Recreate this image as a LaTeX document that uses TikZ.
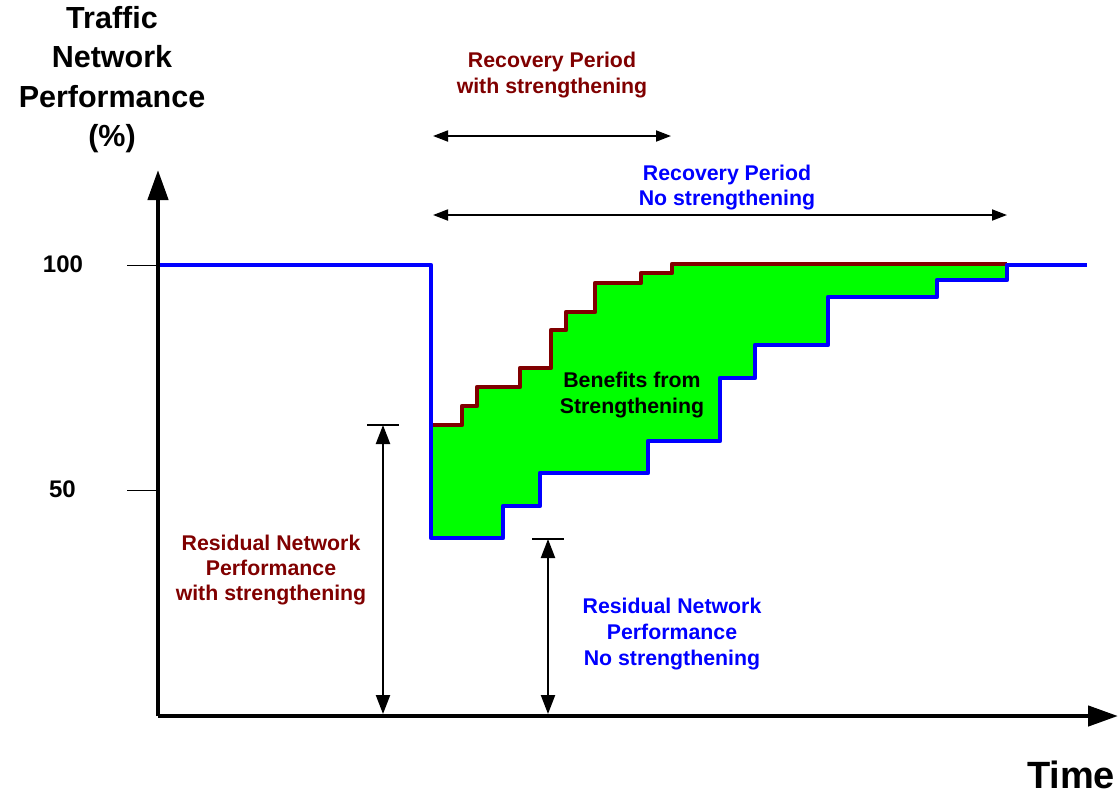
\documentclass[tikz,border=0pt]{standalone}
\usepackage{fontspec}
\setmainfont{Liberation Sans}
\usetikzlibrary{arrows.meta}
\definecolor{curveblue}{RGB}{0,0,255}
\definecolor{curvered}{RGB}{128,0,0}
\definecolor{gainfill}{RGB}{0,255,0}
\begin{document}
\begin{tikzpicture}[x=1pt,y=-1pt,
  lbl/.style={anchor=base, inner sep=0pt, font=\bfseries\fontsize{21.3}{25.6}\selectfont},
  ticklbl/.style={anchor=base, inner sep=0pt, font=\bfseries\fontsize{24}{28}\selectfont},
  titlelbl/.style={anchor=base, inner sep=0pt, font=\bfseries\fontsize{30.5}{39.5}\selectfont},
  axisline/.style={line width=4.5pt, -{Triangle[length=30pt,width=20pt]}},
  spanarrow/.style={line width=1.8pt, {Triangle[length=15pt,width=11pt]}-{Triangle[length=15pt,width=11pt]}},
  levelarrow/.style={line width=2.2pt, {Triangle[length=19pt,width=14pt]}-{Triangle[length=19pt,width=14pt]}},
  bar/.style={line width=1.3pt},
  tickline/.style={line width=1pt},
  curve/.style={line width=4.2pt, line join=round},
]
\useasboundingbox (0,0) rectangle (1119,796);

% area gained by strengthening
\fill[gainfill]
  (431,425) -| (462,406) -| (477,387) -| (520,368) -| (551,330) -| (566,312)
  -| (595,283) -| (641,273) -| (672,264) -- (1007,264)
  -- (1007,280) -| (937,297) -| (828,345) -| (755,378) -| (720,441)
  -| (648,473) -| (540,506) -| (503,538) -- (431,538) -- cycle;

% performance with strengthening
\draw[curve, curvered]
  (431,425) -| (462,406) -| (477,387) -| (520,368) -| (551,330) -| (566,312)
  -| (595,283) -| (641,273) -| (672,264) -- (1007,264);

% performance without strengthening
\draw[curve, curveblue]
  (160,265) -- (431,265) -- (431,538) -- (503,538) |- (540,506) |- (648,473)
  |- (720,441) |- (755,378) |- (828,345) |- (937,297) |- (1007,280)
  |- (1087,265);

% axes
\coordinate (origin) at (158,716);
\coordinate (ytip) at (158,170);
\coordinate (xtip) at (1118,716);
\draw[axisline] (origin) -- (ytip);
\draw[axisline] (origin) -- (xtip);

% ticks
\coordinate (t100a) at (127,265);
\coordinate (t100b) at (158,265);
\coordinate (t50a) at (127,490);
\coordinate (t50b) at (158,490);
\draw[tickline] (t100a) -- (t100b);
\draw[tickline] (t50a) -- (t50b);
\node[ticklbl] (l100) at (63,272) {100};
\node[ticklbl] (l50) at (62.5,497) {50};

% axis titles
\node[titlelbl] (ttl1) at (112,28) {Traffic};
\node[titlelbl] (ttl2) at (112,67.5) {Network};
\node[titlelbl] (ttl3) at (112,107) {Performance};
\node[titlelbl] (ttl4) at (112,146.5) {(\%)};
\node[anchor=base, inner sep=0pt, font=\bfseries\fontsize{38}{44}\selectfont] (time) at (1071,788) {Time};

% recovery periods
\coordinate (rs1) at (433,136);
\coordinate (rs2) at (671,136);
\draw[spanarrow] (rs1) -- (rs2);
\node[lbl, curvered] (rsA) at (552,67) {Recovery Period};
\node[lbl, curvered] (rsB) at (552,93) {with strengthening};

\coordinate (rn1) at (433,215);
\coordinate (rn2) at (1007,215);
\draw[spanarrow] (rn1) -- (rn2);
\node[lbl, curveblue] (rnA) at (727,180) {Recovery Period};
\node[lbl, curveblue] (rnB) at (727,205) {No strengthening};

% residual performance levels
\coordinate (ws1) at (367,425);
\coordinate (ws2) at (399,425);
\coordinate (wsTop) at (383,425);
\coordinate (wsBot) at (383,714);
\draw[bar] (ws1) -- (ws2);
\draw[levelarrow] (wsTop) -- (wsBot);
\node[lbl, curvered] (wsA) at (271,550) {Residual Network};
\node[lbl, curvered] (wsB) at (271,575) {Performance};
\node[lbl, curvered] (wsC) at (271,600) {with strengthening};

\coordinate (ns1) at (532,539);
\coordinate (ns2) at (564,539);
\coordinate (nsTop) at (548,539);
\coordinate (nsBot) at (548,714);
\draw[bar] (ns1) -- (ns2);
\draw[levelarrow] (nsTop) -- (nsBot);
\node[lbl, curveblue] (nsA) at (672,613) {Residual Network};
\node[lbl, curveblue] (nsB) at (672,639) {Performance};
\node[lbl, curveblue] (nsC) at (672,665) {No strengthening};

% benefits label
\node[lbl] (benA) at (632,387) {Benefits from};
\node[lbl] (benB) at (632,413) {Strengthening};
\end{tikzpicture}
\end{document}
